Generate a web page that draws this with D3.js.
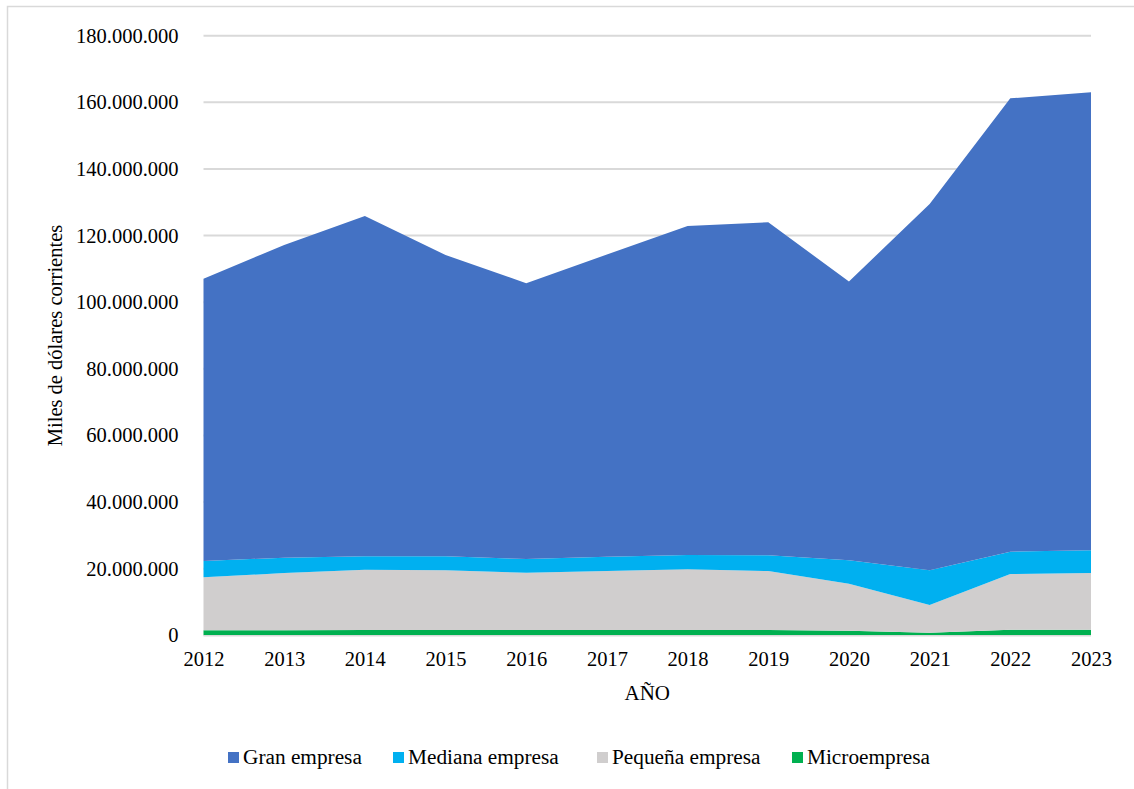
<!DOCTYPE html>
<html>
<head>
<meta charset="utf-8">
<script src="https://cdn.jsdelivr.net/npm/d3@7/dist/d3.min.js"></script>
<style>
  html, body { margin: 0; padding: 0; background: #fff; }
  svg { display: block; font-family: "Liberation Serif", "Times New Roman", serif; }
</style>
</head>
<body>
<svg id="chart" width="1134" height="789"></svg>
<script>
// Años del periodo
const years = [2012, 2013, 2014, 2015, 2016, 2017, 2018, 2019, 2020, 2021, 2022, 2023];

// Valores por tamaño de empresa (miles de dólares corrientes)
const microempresa   = [1500000, 1500000, 1600000, 1600000, 1600000, 1600000, 1600000, 1600000, 1400000, 800000, 1700000, 1700000];
const pequenaEmpresa = [15900000, 17200000, 18100000, 17900000, 17200000, 17700000, 18200000, 17700000, 14100000, 8300000, 16700000, 17000000];
const medianaEmpresa = [4900000, 4600000, 4000000, 4200000, 4100000, 4300000, 4300000, 4700000, 7000000, 10400000, 6700000, 6800000];
const granEmpresa    = [84700000, 93900000, 102200000, 90500000, 82800000, 90700000, 98800000, 100000000, 83700000, 110000000, 136100000, 137500000];

// Marcas del eje vertical
const yTicks = [0, 20000000, 40000000, 60000000, 80000000, 100000000, 120000000, 140000000, 160000000, 180000000];

const seriesNames = ["Microempresa", "Pequeña empresa", "Mediana empresa", "Gran empresa"];
const seriesColors = {
  "Gran empresa": "#4472C4",
  "Mediana empresa": "#00B0F0",
  "Pequeña empresa": "#D0CECE",
  "Microempresa": "#00B050"
};
const legendOrder = ["Gran empresa", "Mediana empresa", "Pequeña empresa", "Microempresa"];

const rows = years.map((yr, i) => ({
  year: yr,
  "Microempresa": microempresa[i],
  "Pequeña empresa": pequenaEmpresa[i],
  "Mediana empresa": medianaEmpresa[i],
  "Gran empresa": granEmpresa[i]
}));

const locale = d3.formatLocale({ decimal: ",", thousands: ".", grouping: [3], currency: ["$", ""] });
const fmt = locale.format(",.0f");

const svg = d3.select("#chart");

// Marco exterior
svg.append("rect")
  .attr("x", 7.5).attr("y", 6.5)
  .attr("width", 1140).attr("height", 800)
  .attr("fill", "none").attr("stroke", "#D9D9D9").attr("stroke-width", 1.5);

const plot = { left: 203.5, right: 1091, top: 35.7, bottom: 635.3 };

const x = d3.scaleLinear().domain([years[0], years[years.length - 1]]).range([plot.left, plot.right]);
const y = d3.scaleLinear().domain([0, 180000000]).range([plot.bottom, plot.top]);

// Líneas de cuadrícula
svg.append("g")
  .selectAll("line")
  .data(yTicks.filter(d => d > 0))
  .join("line")
  .attr("x1", plot.left).attr("x2", plot.right)
  .attr("y1", d => y(d)).attr("y2", d => y(d))
  .attr("stroke", "#D9D9D9").attr("stroke-width", 2);

// Áreas apiladas
const stack = d3.stack().keys(seriesNames);
const layers = stack(rows);

const area = d3.area()
  .x(d => x(d.data.year))
  .y0(d => y(d[0]))
  .y1(d => y(d[1]));

svg.append("g")
  .selectAll("path")
  .data(layers)
  .join("path")
  .attr("d", area)
  .attr("fill", d => seriesColors[d.key]);

// Eje horizontal
svg.append("line")
  .attr("x1", plot.left).attr("x2", plot.right)
  .attr("y1", y(0) + 0.5).attr("y2", y(0) + 0.5)
  .attr("stroke", "#D9D9D9").attr("stroke-width", 1.5);

// Etiquetas del eje Y
const yAxis = d3.axisLeft(y).tickValues(yTicks).tickFormat(fmt).tickSize(0).tickPadding(25);
const gy = svg.append("g").attr("transform", `translate(${plot.left},0)`).call(yAxis);
gy.select(".domain").remove();
gy.selectAll("text")
  .attr("font-size", "20.5px")
  .attr("fill", "#000")
  .attr("font-family", "Liberation Serif, Times New Roman, serif");

// Etiquetas del eje X
const xAxis = d3.axisBottom(x).tickValues(years).tickFormat(d3.format("d")).tickSize(0).tickPadding(16);
const gx = svg.append("g").attr("transform", `translate(0,${plot.bottom})`).call(xAxis);
gx.select(".domain").remove();
gx.selectAll("text")
  .attr("font-size", "20.5px")
  .attr("fill", "#000")
  .attr("font-family", "Liberation Serif, Times New Roman, serif");

// Títulos de ejes
svg.append("text")
  .attr("x", (plot.left + plot.right) / 2).attr("y", 700)
  .attr("text-anchor", "middle")
  .attr("font-size", "21px")
  .text("AÑO");

svg.append("text")
  .attr("transform", `translate(62,${(plot.top + plot.bottom) / 2}) rotate(-90)`)
  .attr("text-anchor", "middle")
  .attr("font-size", "20.5px")
  .text("Miles de dólares corrientes");

// Leyenda
const legendPos = [228, 393, 597, 792];
const legend = svg.append("g");
legendOrder.forEach((name, i) => {
  const g = legend.append("g").attr("transform", `translate(${legendPos[i]},0)`);
  g.append("rect").attr("x", 0).attr("y", 752).attr("width", 11).attr("height", 11).attr("fill", seriesColors[name]);
  g.append("text").attr("x", 15).attr("y", 763.5).attr("font-size", "21.3px").text(name);
});
</script>
</body>
</html>
